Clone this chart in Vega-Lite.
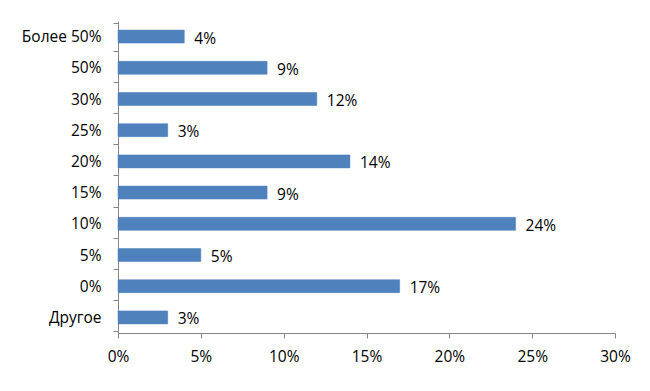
{
  "$schema": "https://vega.github.io/schema/vega-lite/v6.json",
  "autosize": "none",
  "width": 497,
  "height": 312,
  "padding": {"left": 118, "top": 21, "right": 35, "bottom": 58},
  "background": "white",
  "config": {"view": {"stroke": null}, "font": "Open Sans"},
  "data": {"values": [
    {"cat": "Более 50%", "v": 0.04, "lbl": "4%"},
    {"cat": "50%", "v": 0.09, "lbl": "9%"},
    {"cat": "30%", "v": 0.12, "lbl": "12%"},
    {"cat": "25%", "v": 0.03, "lbl": "3%"},
    {"cat": "20%", "v": 0.14, "lbl": "14%"},
    {"cat": "15%", "v": 0.09, "lbl": "9%"},
    {"cat": "10%", "v": 0.24, "lbl": "24%"},
    {"cat": "5%", "v": 0.05, "lbl": "5%"},
    {"cat": "0%", "v": 0.17, "lbl": "17%"},
    {"cat": "Другое", "v": 0.03, "lbl": "3%"}
  ]},
  "encoding": {
    "y": {"field": "cat", "type": "nominal", "sort": null, "title": null,
      "axis": {"domainColor": "#868686", "tickColor": "#868686", "tickBand": "extent", "tickSize": 5,
        "labelFontSize": 15.5, "labelColor": "#000000", "labelPadding": 12, "labelFont": "Open Sans"}},
    "x": {"field": "v", "type": "quantitative", "title": null,
      "scale": {"domain": [0, 0.3], "nice": false},
      "axis": {"format": ".0%", "values": [0, 0.05, 0.1, 0.15, 0.2, 0.25, 0.3], "grid": false, "labelFlush": false,
        "domainColor": "#868686", "tickColor": "#868686", "tickSize": 5,
        "labelFontSize": 15.5, "labelColor": "#000000", "labelPadding": 11, "labelFont": "Open Sans"}}
  },
  "layer": [
    {"mark": {"type": "bar", "size": 13, "color": "#4F81BD", "stroke": "#4A7EBB", "strokeWidth": 0.5}},
    {"mark": {"type": "text", "align": "left", "dx": 10, "dy": 2, "fontSize": 15.5, "color": "#000000", "font": "Open Sans"},
      "encoding": {"text": {"field": "lbl"}}}
  ]
}
